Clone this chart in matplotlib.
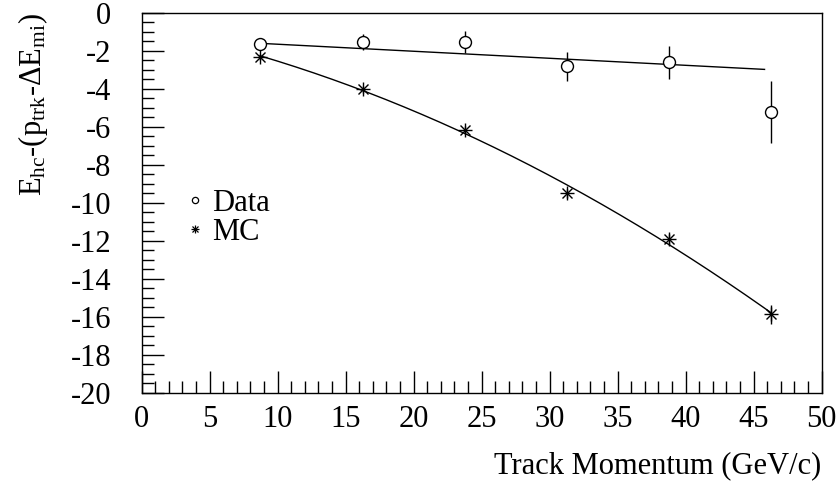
import numpy as np
import matplotlib
matplotlib.use('Agg')
import matplotlib.pyplot as plt
from matplotlib.lines import Line2D
from matplotlib.legend_handler import HandlerTuple
from matplotlib.ticker import MultipleLocator

plt.rcParams['font.family'] = ['Liberation Serif', 'DejaVu Serif']
plt.rcParams['mathtext.fontset'] = 'custom'
plt.rcParams['mathtext.rm'] = 'Liberation Serif'
plt.rcParams['mathtext.it'] = 'Liberation Serif'
plt.rcParams['axes.unicode_minus'] = False

# track momentum bins (GeV/c)
p_data = [8.7, 16.3, 23.8, 31.3, 38.8, 46.3]
p_mc = [8.7, 16.3, 23.8, 31.3, 38.8, 46.3]

# E_hc - (p_trk - dE_mi)
y_data = [-1.66, -1.54, -1.54, -2.81, -2.61, -5.21]
e_data = [0.25, 0.42, 0.57, 0.76, 0.88, 1.63]
y_mc = [-2.32, -4.03, -6.18, -9.50, -11.92, -15.86]
e_mc = [0.15, 0.2, 0.2, 0.25, 0.3, 0.5]

# straight-line fit to data (slope, offset) and its x range
data_fit = [-0.0370, -1.285]
data_fit_range = [8.7, 45.8]

FS = 22

fig = plt.figure(figsize=(8.38, 4.82), dpi=100)
ax = fig.add_axes([0.169, 0.185, 0.8115, 0.7885])

xs = np.linspace(*data_fit_range, 50)
ax.plot(xs, np.polyval(data_fit, xs), color='black', lw=1.0)

# MC trend: quadratic fit to the MC points
mc_coef = np.polyfit(p_mc, y_mc, 2)
xm = np.linspace(min(p_mc), max(p_mc), 200)
ax.plot(xm, np.polyval(mc_coef, xm), color='black', lw=1.0)

ax.errorbar(p_data, y_data, yerr=e_data, fmt='o', ms=8.6, mfc='white',
            mec='black', mew=1.0, ecolor='black', elinewidth=1.0, capsize=0, zorder=3)
ax.errorbar(p_mc, y_mc, yerr=e_mc, fmt='none', ecolor='black', elinewidth=1.0, capsize=0)
ax.plot(p_mc, y_mc, ls='none', marker='+', ms=10, mew=1.0, color='black', zorder=4)
ax.plot(p_mc, y_mc, ls='none', marker='x', ms=7.5, mew=1.0, color='black', zorder=4)

ax.set_xlim(0, 50)
ax.set_ylim(-20, 0)
ax.xaxis.set_major_locator(MultipleLocator(5))
ax.xaxis.set_minor_locator(MultipleLocator(1))
ax.yaxis.set_major_locator(MultipleLocator(2))
ax.yaxis.set_minor_locator(MultipleLocator(0.5))
ax.tick_params(which='both', direction='in', top=False, right=False,
               labelsize=FS, width=1.0, color='black')
ax.tick_params(which='major', length=16)
ax.tick_params(which='minor', length=8.5)
ax.tick_params(axis='x', which='major', pad=9)
ax.tick_params(axis='y', which='major', pad=22)
for s in ax.spines.values():
    s.set_linewidth(1.0)

ax.set_xlabel('Track Momentum (GeV/c)', fontsize=FS, loc='right', labelpad=12)
ax.set_ylabel(r'E$_{\rm hc}$-(p$_{\rm trk}$-$\Delta$E$_{\rm mi}$)', fontsize=FS,
              loc='top', labelpad=15)

h_data = Line2D([], [], ls='none', marker='o', ms=4.5, mfc='white', mec='black', mew=0.9)
h_mc = (Line2D([], [], ls='none', marker='+', ms=5.5, mew=0.9, color='black'),
        Line2D([], [], ls='none', marker='x', ms=4, mew=0.9, color='black'))
ax.legend([h_data, h_mc], ['Data', 'MC'], loc='center left',
          bbox_to_anchor=(0.067, 0.461), frameon=False, fontsize=FS,
          handlelength=0.5, handletextpad=0.3, labelspacing=0.0,
          borderpad=0, borderaxespad=0,
          handler_map={tuple: HandlerTuple(ndivide=1)})

fig.savefig('out.png', dpi=100)
